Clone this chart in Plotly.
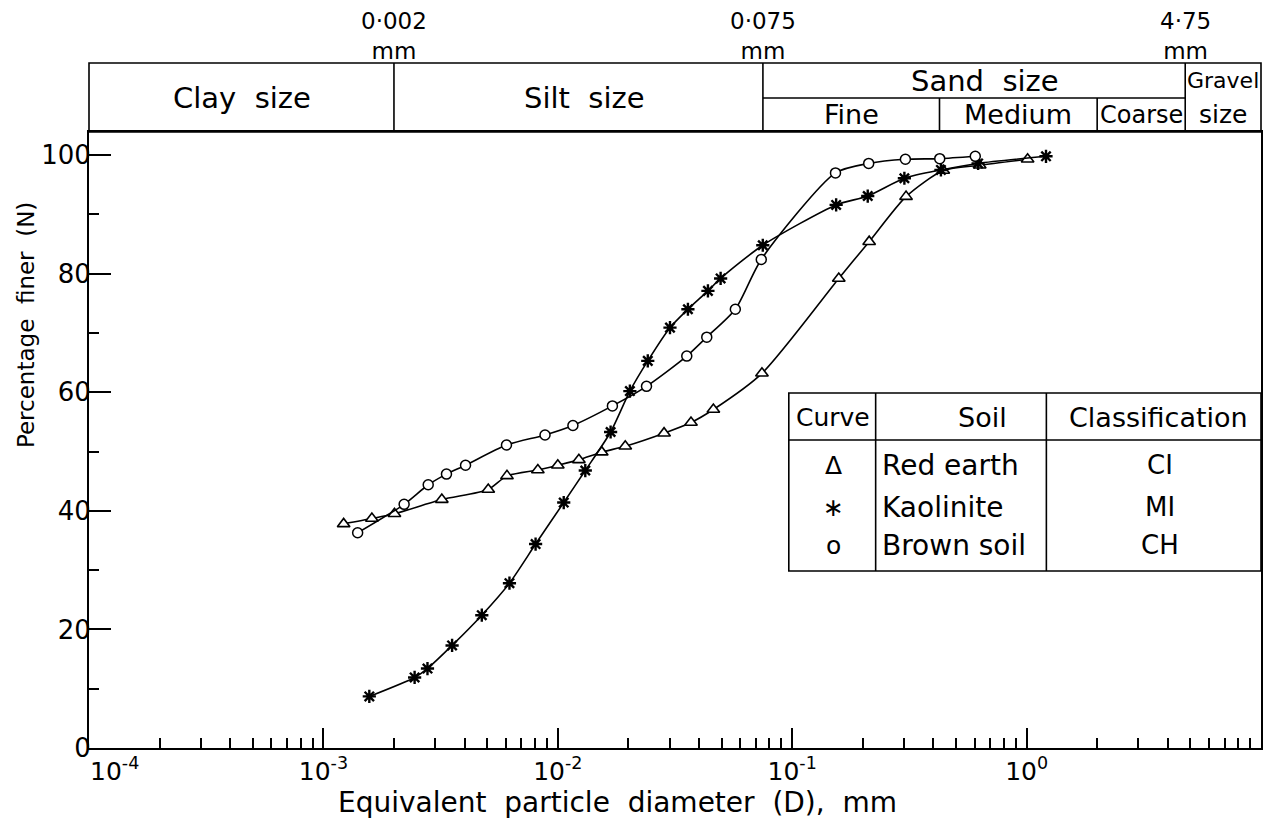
import math
import plotly.graph_objects as go

# Grain-size distribution data: equivalent diameter D (mm) vs percentage finer N (%)
red_earth_d = [0.00122, 0.00161, 0.00201, 0.0032, 0.00505, 0.00607, 0.00822, 0.0100,
               0.0123, 0.0154, 0.0194, 0.0284, 0.0370, 0.0461, 0.0743, 0.158, 0.213,
               0.306, 0.441, 0.631, 1.01]
red_earth_n = [37.8, 38.7, 39.5, 41.9, 43.6, 45.9, 46.9, 47.7, 48.6, 49.9, 50.9, 53.1,
               54.9, 57.1, 63.2, 79.2, 85.4, 93.0, 97.4, 98.3, 99.3]

kaolinite_d = [0.00157, 0.00245, 0.00278, 0.00354, 0.00474, 0.00622, 0.00804, 0.0106,
               0.0131, 0.0168, 0.0203, 0.0242, 0.0301, 0.0359, 0.0437, 0.0495, 0.0749,
               0.154, 0.210, 0.301, 0.431, 0.621, 1.21]
kaolinite_n = [8.7, 11.9, 13.4, 17.3, 22.4, 27.8, 34.4, 41.4, 46.8, 53.3, 60.2, 65.3,
               70.9, 74.0, 77.1, 79.2, 84.8, 91.6, 93.1, 96.1, 97.5, 98.6, 99.8]

brown_soil_d = [0.00140, 0.00221, 0.00280, 0.00335, 0.00404, 0.00604, 0.00882, 0.0116,
                0.0171, 0.0239, 0.0355, 0.0432, 0.0572, 0.0738, 0.153, 0.212, 0.304,
                0.426, 0.604]
brown_soil_n = [36.3, 41.1, 44.4, 46.2, 47.7, 51.1, 52.8, 54.4, 57.7, 61.0, 66.1, 69.3,
                74.0, 82.4, 97.0, 98.6, 99.3, 99.4, 99.8]

# Size-class boundaries (mm)
clay_silt = 0.002
silt_sand = 0.075
fine_medium = 0.425
medium_coarse = 2.0
sand_gravel = 4.75

# Legend table contents
curve_symbols = ["\u0394", "\u2217", "o"]
soil_names = ["Red earth", "Kaolinite", "Brown soil"]
classes = ["CI", "MI", "CH"]

# decade labels; the leftmost one sits in the corner and is placed separately
x_first_label = "10<sup>-4</sup>"
x_tick_vals = [1e-3, 1e-2, 1e-1, 1e0, 1e1]
x_tick_text = ["10<sup>-3</sup>", "10<sup>-2</sup>", "10<sup>-1</sup>",
               "10<sup>0</sup>", "10<sup>1</sup>"]

FONT = "DejaVu Sans"
W, H = 1275, 825
L, R, T, B = 89, 12, 132, 77
PW, PH = W - L - R, H - T - B
X_RANGE = (-4, 1)
Y_RANGE = (0, 103.9)


def xp(d):
    """paper x for a diameter on the log axis"""
    return (math.log10(d) - X_RANGE[0]) / (X_RANGE[1] - X_RANGE[0])


def pxx(px):
    return (px - L) / PW


def pxy(py):
    return (H - B - py) / PH


fig = go.Figure()

line_style = dict(color="black", width=1.6, shape="spline", smoothing=0.7)
fig.add_trace(go.Scatter(
    x=red_earth_d, y=red_earth_n, mode="lines+markers", name="Red earth",
    line=line_style,
    marker=dict(symbol="triangle-up", size=11, color="white",
                line=dict(color="black", width=1.6))))
fig.add_trace(go.Scatter(
    x=kaolinite_d, y=kaolinite_n, mode="lines+markers", name="Kaolinite",
    line=line_style,
    marker=dict(symbol="asterisk-open", size=11, color="black",
                line=dict(color="black", width=2.4))))
fig.add_trace(go.Scatter(
    x=brown_soil_d, y=brown_soil_n, mode="lines+markers", name="Brown soil",
    line=line_style,
    marker=dict(symbol="circle", size=10, color="white",
                line=dict(color="black", width=1.5))))

shapes = []
ann = []
lw = 1.6

# size-class header band above the plot
y_hdr_top = 1 + (T - 63) / PH
y_hdr_mid = 1 + (T - 98) / PH
shapes.append(dict(type="rect", xref="paper", yref="paper", x0=0, x1=1,
                   y0=1, y1=y_hdr_top, line=dict(color="black", width=lw)))
for d in (clay_silt, silt_sand, sand_gravel):
    shapes.append(dict(type="line", xref="paper", yref="paper", x0=xp(d), x1=xp(d),
                       y0=1, y1=y_hdr_top, line=dict(color="black", width=lw)))
shapes.append(dict(type="line", xref="paper", yref="paper", x0=xp(silt_sand),
                   x1=xp(sand_gravel), y0=y_hdr_mid, y1=y_hdr_mid,
                   line=dict(color="black", width=lw)))
for d in (fine_medium, medium_coarse):
    shapes.append(dict(type="line", xref="paper", yref="paper", x0=xp(d), x1=xp(d),
                       y0=1, y1=y_hdr_mid, line=dict(color="black", width=lw)))


def text(x, y, s, size=26, xanchor="center", **kw):
    ann.append(dict(xref="paper", yref="paper", x=x, y=y, text=s, showarrow=False,
                    xanchor=xanchor, yanchor="middle",
                    font=dict(family=FONT, size=size, color="black"), **kw))


y_full = (1 + y_hdr_top) / 2
y_upper = (y_hdr_mid + y_hdr_top) / 2
y_lower = (1 + y_hdr_mid) / 2
text(pxx(242), y_full, "Clay  size", 29)
text(pxx(585), y_full, "Silt  size", 29)
text(pxx(987), y_upper, "Sand  size", 29)
text((xp(silt_sand) + xp(fine_medium)) / 2, y_lower, "Fine", 27)
text((xp(fine_medium) + xp(medium_coarse)) / 2, y_lower, "Medium", 27)
text((xp(medium_coarse) + xp(sand_gravel)) / 2, y_lower, "Coarse", 24)
text((xp(sand_gravel) + 1) / 2, y_upper, "Gravel", 22)
text((xp(sand_gravel) + 1) / 2, y_lower, "size", 25)

# boundary sizes above the band
for d, lab in ((clay_silt, "0\u00b7002"), (silt_sand, "0\u00b7075"), (sand_gravel, "4\u00b775")):
    ann.append(dict(xref="paper", yref="paper", x=xp(d), y=pxy(36),
                    text=lab + "<br>mm", showarrow=False, xanchor="center",
                    yanchor="middle", align="center",
                    font=dict(family=FONT, size=23, color="black")))

# legend table inside the plot
tx0, tx1 = pxx(790), 1.0
ty_top, ty_hdr, ty_bot = pxy(393), pxy(440), pxy(571)
c1, c2 = pxx(877), pxx(1048)
shapes.append(dict(type="rect", xref="paper", yref="paper", x0=tx0, x1=tx1,
                   y0=ty_bot, y1=ty_top, line=dict(color="black", width=lw),
                   fillcolor="white"))
shapes.append(dict(type="line", xref="paper", yref="paper", x0=tx0, x1=tx1,
                   y0=ty_hdr, y1=ty_hdr, line=dict(color="black", width=lw)))
for c in (c1, c2):
    shapes.append(dict(type="line", xref="paper", yref="paper", x0=c, x1=c,
                       y0=ty_bot, y1=ty_top, line=dict(color="black", width=lw)))
text(pxx(834), pxy(417), "Curve", 25)
text(pxx(984), pxy(417), "Soil", 27)
text(pxx(1160), pxy(417), "Classification", 27)
for i, row_y in enumerate((465, 507, 545)):
    text(pxx(835), pxy(row_y), curve_symbols[i], 25)
    text(pxx(881), pxy(row_y), soil_names[i], 28, xanchor="left")
    text(pxx(1162), pxy(row_y), classes[i], 26)

# corner decade label
ann.append(dict(xref="paper", yref="paper", x=xp(1e-4), y=0, text=x_first_label,
                showarrow=False, xanchor="left", yanchor="top", xshift=-1, yshift=-3,
                font=dict(family=FONT, size=25, color="black")))

# axis titles
text(pxx(618), pxy(803), "Equivalent  particle  diameter  (D),  mm", 28)
text(pxx(26), pxy(325), "Percentage  finer  (N)", 23, textangle=-90)

minor_x = [m * 10 ** e for e in range(-4, 1) for m in range(2, 10)]

fig.update_layout(
    width=W, height=H,
    margin=dict(l=L, r=R, t=T, b=B),
    paper_bgcolor="white", plot_bgcolor="white",
    showlegend=False,
    shapes=shapes, annotations=ann,
    font=dict(family=FONT, color="black"),
    xaxis=dict(
        type="log", range=list(X_RANGE),
        tickmode="array", tickvals=x_tick_vals, ticktext=x_tick_text,
        ticks="inside", ticklen=20, tickwidth=1.6, tickcolor="black",
        minor=dict(tickmode="array", tickvals=minor_x, ticks="inside", ticklen=10,
                   tickwidth=1.5, tickcolor="black", showgrid=False),
        showgrid=False, zeroline=False,
        showline=True, linecolor="black", linewidth=1.8, mirror=True,
        tickfont=dict(family=FONT, size=25, color="black"),
    ),
    yaxis=dict(
        range=list(Y_RANGE),
        tickmode="linear", tick0=0, dtick=20,
        ticks="inside", ticklen=22, tickwidth=1.6, tickcolor="black",
        ticklabelstandoff=-9,
        minor=dict(dtick=10, ticks="inside", ticklen=10, tickwidth=1.5,
                   tickcolor="black", showgrid=False),
        showgrid=False, zeroline=False,
        showline=True, linecolor="black", linewidth=1.8, mirror=True,
        tickfont=dict(family=FONT, size=26, color="black"),
    ),
)

fig.write_html("out.html")
